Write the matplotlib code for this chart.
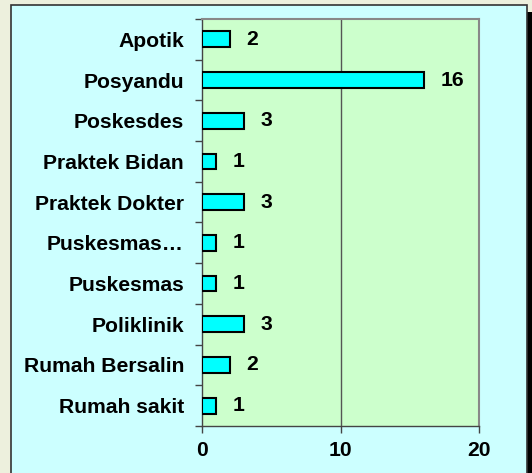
import matplotlib.pyplot as plt
from matplotlib.patches import Rectangle

categories = ['Apotik', 'Posyandu', 'Poskesdes', 'Praktek Bidan', 'Praktek Dokter',
              'Puskesmas…', 'Puskesmas', 'Poliklinik', 'Rumah Bersalin', 'Rumah sakit']
values = [2, 16, 3, 1, 3, 1, 1, 3, 2, 1]
xticks = [0, 10, 20]

plt.rcParams['font.family'] = ['Liberation Sans', 'DejaVu Sans']
plt.rcParams['font.weight'] = 'bold'
fs = 15.2

fig = plt.figure(figsize=(5.32, 4.73), dpi=100)
fig.patch.set_facecolor('#EDF0DD')

# chart area with dark shadow on the right
W, H = 532, 473
fig.patches.append(Rectangle((527 / W, 0), 5 / W, 1 - 12 / H, transform=fig.transFigure,
                             facecolor='black', edgecolor='none', zorder=0))
fig.patches.append(Rectangle((11 / W, -0.01), 516 / W, 1 - 5 / H + 0.01, transform=fig.transFigure,
                             facecolor='#CCFFFF', edgecolor='#333333', linewidth=1.2, zorder=1))

ax = fig.add_axes([202 / W, 1 - 426 / H, 277 / W, 407 / H])
ax.set_zorder(2)
ax.set_facecolor('#CCFFCC')

y = list(range(len(categories)))
ax.barh(y, values, height=0.39, color='#00FFFF', edgecolor='black', linewidth=1.5, zorder=3)
for yi, v in zip(y, values):
    ax.text(v + 1.2, yi, str(v), va='center', ha='left', fontsize=fs, fontweight='bold')

ax.set_xlim(0, 20)
ax.set_ylim(len(categories) - 0.5, -0.5)
ax.set_xticks(xticks)
ax.set_xticklabels([str(t) for t in xticks], fontsize=fs, fontweight='bold')
ax.set_yticks(y)
ax.set_yticklabels(categories, fontsize=fs, fontweight='bold')
ax.tick_params(axis='y', length=0, pad=13)
ax.set_yticks([i + 0.5 for i in range(-1, len(categories))], minor=True)
ax.tick_params(axis='y', which='minor', length=5, color='#444444', width=1)
ax.tick_params(axis='x', length=5, color='#444444', width=1, pad=6)
ax.axvline(10, color='#555555', linewidth=1, zorder=2)

for s in ['top', 'right']:
    ax.spines[s].set_color('#888888')
    ax.spines[s].set_linewidth(1.5)
for s in ['left', 'bottom']:
    ax.spines[s].set_color('#444444')
    ax.spines[s].set_linewidth(1)

fig.savefig('out.png', dpi=100, facecolor=fig.get_facecolor())
